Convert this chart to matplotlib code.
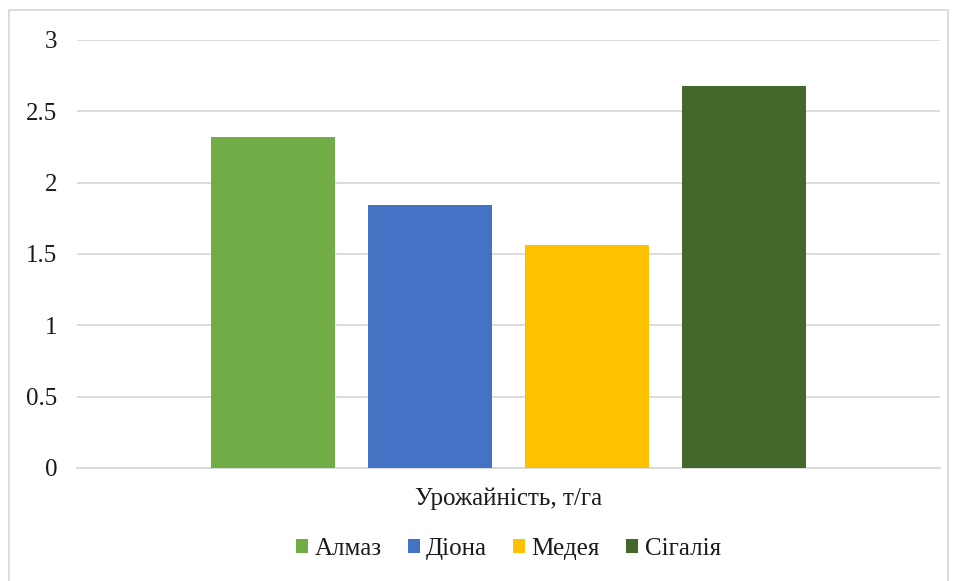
import matplotlib.pyplot as plt
from matplotlib.patches import Rectangle

plt.rcParams['font.family'] = ['Liberation Serif', 'DejaVu Serif']

# Yield by variety
category = 'Урожайність, т/га'
varieties = ['Алмаз', 'Діона', 'Медея', 'Сігалія']
yields = [2.32, 1.84, 1.565, 2.68]
colors = ['#70ad47', '#4472c4', '#ffc000', '#43682b']

fig = plt.figure(figsize=(9.57, 5.81), dpi=100)
ax = fig.add_axes([77 / 957, 1 - 468 / 581, (940 - 77) / 957, (468 - 40) / 581])

step = 0.182
width = 0.1437
for i, (name, val, col) in enumerate(zip(varieties, yields, colors)):
    ax.bar((i - 1.5) * step, val, width=width, color=col, label=name, zorder=3)

ax.set_xlim(-0.5, 0.5)
ax.set_ylim(0, 3)
ax.set_yticks([0, 0.5, 1, 1.5, 2, 2.5, 3])
ax.set_yticklabels(['0', '0.5', '1', '1.5', '2', '2.5', '3'])
ax.set_xticks([0])
ax.set_xticklabels([category])
ax.tick_params(axis='both', length=0, labelsize=18, colors='#1a1a1a')
ax.tick_params(axis='y', pad=14)
ax.tick_params(axis='x', pad=14)
ax.grid(axis='y', color='#d9d9d9', linewidth=1.3, zorder=0)
for s in ['top', 'right', 'left']:
    ax.spines[s].set_visible(False)
ax.spines['bottom'].set_color('#d9d9d9')
ax.spines['bottom'].set_linewidth(1.3)

leg = ax.legend(loc='center', bbox_to_anchor=(508.5 / 957, 1 - 549 / 581), bbox_transform=fig.transFigure,
                ncol=4, frameon=False, fontsize=18, handlelength=0.48, handleheight=0.48,
                handletextpad=0.25, columnspacing=1.05)
for t in leg.get_texts():
    t.set_color('#1a1a1a')

# chart area border
fig.patches.append(Rectangle((9 / 957, -0.01), (948 - 9) / 957, 1 - 10 / 581 + 0.01,
                             transform=fig.transFigure, fill=False,
                             edgecolor='#d9d9d9', linewidth=1.3))

fig.savefig('out.png', dpi=100)
